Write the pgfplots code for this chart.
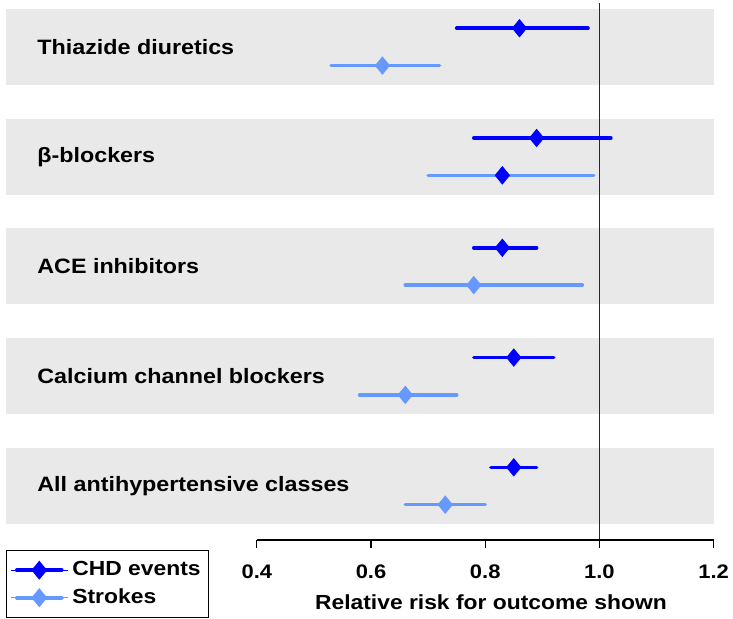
\documentclass[border=0pt]{standalone}
\usepackage{fontspec}
\setmainfont{Liberation Sans}[FakeStretch=1.12]
\usepackage{pgfplots}
\usepackage{pgfplotstable}
\pgfplotsset{compat=1.18}
\definecolor{chd}{RGB}{0,0,255}
\definecolor{stk}{RGB}{102,153,255}
\definecolor{band}{RGB}{233,233,233}
\definecolor{vline}{RGB}{40,40,40}

% y = band centre +/- 0.17 ; rr = relative risk ; lo/hi = 95% CI
\pgfplotstableread{
y    rr   lo   hi
5.17 0.86 0.75 0.98
4.17 0.89 0.78 1.02
3.17 0.83 0.78 0.89
2.17 0.85 0.78 0.92
1.17 0.85 0.81 0.89
}\chdtab

\pgfplotstableread{
y    rr   lo   hi
4.83 0.62 0.53 0.72
3.83 0.83 0.70 0.99
2.83 0.78 0.66 0.97
1.83 0.66 0.58 0.75
0.83 0.73 0.66 0.80
}\stktab

\begin{document}
\begin{tikzpicture}
\path[use as bounding box] (-2.8pt,-39.5pt) rectangle (363.7pt,270pt);
\begin{axis}[
  at={(0,0)}, anchor=south west,
  scale only axis, width=354pt, height=268.5pt,
  xmin=-0.04, xmax=1.2, ymin=0.508, ymax=5.4,
  clip=false,
  axis x line*=bottom, axis y line=none,
  x axis line style={draw=none},
  xtick={0.4,0.6,0.8,1.0,1.2},
  xticklabels={0.4,0.6,0.8,1.0,1.2},
  ytick=\empty,
  tick align=outside,
  major tick length=4pt,
  tick style={black, line width=0.6pt},
  xticklabel style={font=\bfseries\fontsize{9.8}{11}\selectfont, yshift=-5pt},
  legend style={at={(0.0,-0.0186)}, anchor=north west, draw=black, line width=0.6pt,
    font=\bfseries\fontsize{10.2}{12}\selectfont, inner xsep=2pt, inner ysep=3.5pt,
    row sep=1pt, nodes={inner sep=2pt}},
  legend cell align=left,
]
% background bands
\fill[band] (axis cs:-0.04,4.654) rectangle (axis cs:1.2,5.346);
\fill[band] (axis cs:-0.04,3.654) rectangle (axis cs:1.2,4.346);
\fill[band] (axis cs:-0.04,2.654) rectangle (axis cs:1.2,3.346);
\fill[band] (axis cs:-0.04,1.654) rectangle (axis cs:1.2,2.346);
\fill[band] (axis cs:-0.04,0.654) rectangle (axis cs:1.2,1.346);
% reference line and axis line
\draw[vline, line width=0.9pt] (axis cs:1,0.508) -- (axis cs:1,5.4);
\draw[black, line width=0.6pt] (axis cs:0.4,0.508) -- (axis cs:1.2,0.508);

\addplot[only marks, mark=diamond*, mark size=4.3pt, color=chd, mark options={xscale=1.1},
  legend image code/.code={
    \path (0pt,0pt) -- (28.5pt,0pt);
    \draw[line width=1.8pt, line cap=round, chd] (3pt,0pt) -- (25.5pt,0pt);
    \fill[chd] (14.25pt,4.3pt) -- (17.8pt,0pt) -- (14.25pt,-4.3pt) -- (10.7pt,0pt) -- cycle;},
  error bars/.cd, x dir=both, x explicit, error mark=none,
  error bar style={line width=1.8pt, line cap=round, chd}]
  table[x=rr, y=y, x error plus expr=\thisrow{hi}-\thisrow{rr}, x error minus expr=\thisrow{rr}-\thisrow{lo}] {\chdtab};
\addlegendentry{CHD events}

\addplot[only marks, mark=diamond*, mark size=4.3pt, color=stk, mark options={xscale=1.1},
  legend image code/.code={
    \path (0pt,0pt) -- (28.5pt,0pt);
    \draw[line width=1.8pt, line cap=round, stk] (3pt,0pt) -- (25.5pt,0pt);
    \fill[stk] (14.25pt,4.3pt) -- (17.8pt,0pt) -- (14.25pt,-4.3pt) -- (10.7pt,0pt) -- cycle;},
  error bars/.cd, x dir=both, x explicit, error mark=none,
  error bar style={line width=1.8pt, line cap=round, stk}]
  table[x=rr, y=y, x error plus expr=\thisrow{hi}-\thisrow{rr}, x error minus expr=\thisrow{rr}-\thisrow{lo}] {\stktab};
\addlegendentry{Strokes}

% the beta-blocker stroke estimate is drawn with a dark marker in the original
\addplot[only marks, mark=diamond*, mark size=4.3pt, color=chd, mark options={xscale=1.1}, forget plot]
  coordinates {(0.83,3.83)};

% category labels
\begin{scope}[every node/.style={anchor=west, inner sep=0pt, font=\bfseries\fontsize{10.4}{12}\selectfont}]
\node at (axis cs:0.015,5) {Thiazide diuretics};
\node at (axis cs:0.015,4) {β-blockers};
\node at (axis cs:0.015,3) {ACE inhibitors};
\node at (axis cs:0.015,2) {Calcium channel blockers};
\node at (axis cs:0.015,1) {All antihypertensive classes};
\end{scope}
\node[anchor=base, font=\bfseries\fontsize{10.2}{12}\selectfont] at (axis cs:0.81,0.508) [yshift=-35pt] {Relative risk for outcome shown};
\end{axis}
\end{tikzpicture}
\end{document}
